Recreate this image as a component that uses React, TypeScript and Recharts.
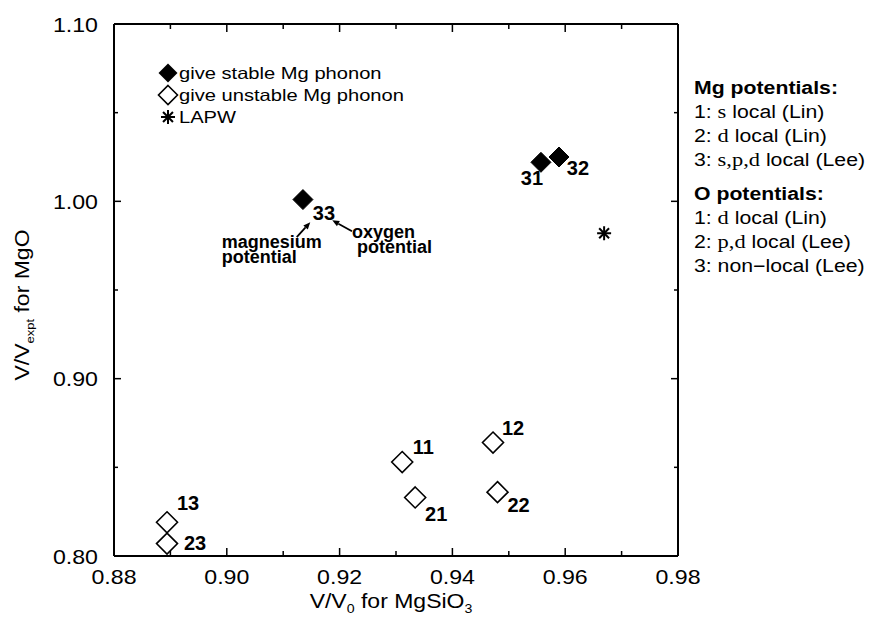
import React from 'react';
import { ScatterChart, Scatter, XAxis, YAxis, Legend, ReferenceLine, ReferenceDot } from 'recharts';

// ---------- data ----------
const stableX = [0.9135, 0.9557, 0.9589];
const stableY = [1.001, 1.022, 1.025];
const stableLabels = ['33', '31', '32'];

const unstableX = [0.9311, 0.9472, 0.8894, 0.9334, 0.948, 0.8894];
const unstableY = [0.853, 0.864, 0.819, 0.833, 0.836, 0.807];
const unstableLabels = ['11', '12', '13', '21', '22', '23'];

const lapwX = [0.9669];
const lapwY = [0.982];

const xTicks = [0.88, 0.89, 0.9, 0.91, 0.92, 0.93, 0.94, 0.95, 0.96, 0.97, 0.98];
const yTicks = [0.8, 0.85, 0.9, 0.95, 1.0, 1.05, 1.1];

const seriesNames = ['give stable Mg phonon', 'give unstable Mg phonon', 'LAPW'];

const mgLines = [
  ['1: ', 's', ' local (Lin)'],
  ['2: ', 'd', ' local (Lin)'],
  ['3: ', 's,p,d', ' local (Lee)'],
];
const oLines = [
  ['1: ', 'd', ' local (Lin)'],
  ['2: ', 'p,d', ' local (Lee)'],
  ['3: ', '', 'non\u2212local (Lee)'],
];

// annotation anchors (data coords)
const magText = { x: 0.8991, y: 0.9736, lines: ['magnesium', 'potential'] };
const oxyText = { x: 0.9222, y: 0.9792, lines: ['oxygen', 'potential'] };
const magArrow = [{ x: 0.9124, y: 0.9798 }, { x: 0.9148, y: 0.9882 }];
const oxyArrow = [{ x: 0.9222, y: 0.9831 }, { x: 0.9187, y: 0.9893 }];

// label offsets (px, centre of label relative to point)
const labelOffsets: Record<string, [number, number]> = {
  '33': [21, 13], '31': [-9, 16], '32': [19, 11],
  '11': [21, -15], '12': [20, -15], '13': [21, -19],
  '21': [21, 17], '22': [21, 13], '23': [28, -1],
};

const stableData = stableX.map((x, i) => ({ x, y: stableY[i], label: stableLabels[i] }));
const unstableData = unstableX.map((x, i) => ({ x, y: unstableY[i], label: unstableLabels[i] }));
const lapwData = lapwX.map((x, i) => ({ x, y: lapwY[i], label: '' }));

const SANS = '"Liberation Sans", Arial, Helvetica, sans-serif';
const SERIF = '"Liberation Serif", "Times New Roman", serif';
const SX = 1.18;

// stretched svg text
const SText = ({ x, y, sx = SX, rotate = 0, anchor = 'start', size, children, weight }: any) => (
  <g transform={`translate(${x},${y}) rotate(${rotate}) scale(${sx},1)`}>
    <text x={0} y={0} textAnchor={anchor} fontFamily={SANS} fontSize={size} fontWeight={weight} fill="#000">
      {children}
    </text>
  </g>
);

// ---------- shapes ----------
const PointLabel = ({ cx, cy, label }: any) => {
  if (!label) return null;
  const off = labelOffsets[label] || [0, 0];
  return (
    <text x={cx + off[0]} y={cy + off[1] + 7} textAnchor="middle" fontFamily={SANS}
      fontWeight="bold" fontSize={20} fill="#000">{label}</text>
  );
};

const FilledDiamond = (props: any) => {
  const { cx, cy, payload } = props;
  const r = 10;
  return (
    <g>
      <polygon points={`${cx},${cy - r} ${cx + r},${cy} ${cx},${cy + r} ${cx - r},${cy}`} fill="#000" stroke="#000" />
      <PointLabel cx={cx} cy={cy} label={payload.label} />
    </g>
  );
};

const OpenDiamond = (props: any) => {
  const { cx, cy, payload } = props;
  const r = 10.5;
  return (
    <g>
      <polygon points={`${cx},${cy - r} ${cx + r},${cy} ${cx},${cy + r} ${cx - r},${cy}`} fill="#fff" stroke="#000" strokeWidth={1.6} />
      <PointLabel cx={cx} cy={cy} label={payload.label} />
    </g>
  );
};

const Star = (props: any) => {
  const { cx, cy } = props;
  const r = 7;
  const d = r * Math.SQRT1_2;
  return (
    <g stroke="#000" strokeWidth={2}>
      <line x1={cx - r} y1={cy} x2={cx + r} y2={cy} />
      <line x1={cx} y1={cy - r} x2={cx} y2={cy + r} />
      <line x1={cx - d} y1={cy - d} x2={cx + d} y2={cy + d} />
      <line x1={cx - d} y1={cy + d} x2={cx + d} y2={cy - d} />
    </g>
  );
};

const ArrowLine = (props: any) => {
  const { x1, y1, x2, y2 } = props;
  const ang = Math.atan2(y2 - y1, x2 - x1);
  const L = 7, W = 3;
  const bx = x2 - L * Math.cos(ang), by = y2 - L * Math.sin(ang);
  const px = -Math.sin(ang) * W, py = Math.cos(ang) * W;
  return (
    <g>
      <line x1={x1} y1={y1} x2={bx} y2={by} stroke="#000" strokeWidth={1.8} />
      <polygon points={`${x2},${y2} ${bx + px},${by + py} ${bx - px},${by - py}`} fill="#000" />
    </g>
  );
};

const makeAnnot = (lines: string[], indent: number) => (props: any) => {
  const { cx, cy } = props;
  return (
    <text x={cx} y={cy} fontFamily={SANS} fontWeight="bold" fontSize={18} fill="#000">
      {lines.map((l, i) => (
        <tspan key={i} x={cx + (i > 0 ? indent : 0)} y={cy + i * 15}>{l}</tspan>
      ))}
    </text>
  );
};

// ---------- ticks ----------
const isMajorX = (v: number) => Math.round(v * 100) % 2 === 0;
const isMajorY = (v: number) => Math.round(v * 100) % 10 === 0;

const XTickBottom = (props: any) => {
  const { x, y, payload } = props;
  const major = isMajorX(payload.value);
  return (
    <g>
      <line x1={x} x2={x} y1={y} y2={y - (major ? 8 : 5)} stroke="#000" strokeWidth={1.5} />
      {major && <SText x={x} y={y + 28} sx={1.13} anchor="middle" size={20.5}>{payload.value.toFixed(2)}</SText>}
    </g>
  );
};
const XTickTop = (props: any) => {
  const { x, y, payload } = props;
  const major = isMajorX(payload.value);
  return <line x1={x} x2={x} y1={y} y2={y + (major ? 8 : 5)} stroke="#000" strokeWidth={1.5} />;
};
const YTickLeft = (props: any) => {
  const { x, y, payload } = props;
  const major = isMajorY(payload.value);
  return (
    <g>
      <line x1={x} x2={x + (major ? 7 : 4)} y1={y} y2={y} stroke="#000" strokeWidth={1.5} />
      {major && <SText x={x - 16} y={y + 7.5} sx={1.13} anchor="end" size={20.5}>{payload.value.toFixed(2)}</SText>}
    </g>
  );
};
const YTickRight = (props: any) => {
  const { x, y, payload } = props;
  const major = isMajorY(payload.value);
  return <line x1={x} x2={x - (major ? 7 : 4)} y1={y} y2={y} stroke="#000" strokeWidth={1.5} />;
};

const XTitle = (props: any) => {
  const vb = props.viewBox;
  const cx = vb.x + vb.width / 2 - 5;
  return (
    <SText x={cx} y={vb.y + 52} anchor="middle" size={19.5}>
      V/V<tspan fontSize={12} dy={5}>0</tspan><tspan dy={-5}> for MgSiO</tspan><tspan fontSize={12} dy={5}>3</tspan>
    </SText>
  );
};
const YTitle = (props: any) => {
  const vb = props.viewBox;
  const cy = vb.y + vb.height / 2 + 15;
  return (
    <SText x={29} y={cy} rotate={-90} anchor="middle" size={19.5}>
      V/V<tspan fontSize={11} dy={5}>expt</tspan><tspan dy={-5}> for MgO</tspan>
    </SText>
  );
};

// ---------- legend ----------
const LegendIcon = ({ kind }: { kind: number }) => (
  <svg width={22} height={22} style={{ display: 'block', flex: 'none' }}>
    {kind === 0 && <polygon points="11,1.5 20.5,11 11,20.5 1.5,11" fill="#000" />}
    {kind === 1 && <polygon points="11,1.5 20.5,11 11,20.5 1.5,11" fill="#fff" stroke="#000" strokeWidth={1.6} />}
    {kind === 2 && <Star cx={11} cy={11} />}
  </svg>
);

const renderLegend = (props: any) => {
  const payload = [...(props.payload || [])].sort(
    (a: any, b: any) => seriesNames.indexOf(a.value) - seriesNames.indexOf(b.value)
  );
  return (
    <div style={{ fontFamily: SANS, fontSize: 16.5, color: '#000' }}>
      {payload.map((entry: any, i: number) => {
        const kind = seriesNames.indexOf(entry.value);
        return (
          <div key={i} style={{ display: 'flex', alignItems: 'center', height: 22, whiteSpace: 'nowrap' }}>
            <LegendIcon kind={kind} />
            <span style={{ display: 'inline-block', transform: 'scaleX(1.22)', transformOrigin: 'left center' }}>
              {entry.value}
            </span>
          </div>
        );
      })}
    </div>
  );
};

const SideBlock = ({ title, lines, top }: { title: string; lines: string[][]; top: number }) => (
  <div style={{ position: 'absolute', left: 694, top, fontFamily: SANS, fontSize: 18, lineHeight: '23px', color: '#000', whiteSpace: 'nowrap', transform: `scaleX(${SX})`, transformOrigin: 'left top' }}>
    <div style={{ fontWeight: 'bold' }}>{title}</div>
    {lines.map((l, i) => (
      <div key={i}>
        {l[0]}
        <span style={{ fontFamily: SERIF, fontSize: 19 }}>{l[1]}</span>
        {l[2]}
      </div>
    ))}
  </div>
);

export default function App() {
  return (
    <div style={{ position: 'absolute', left: 0, top: 0, width: 883, height: 620, background: '#fff', overflow: 'hidden' }}>
      <ScatterChart width={883} height={620} margin={{ top: 23, right: 204, bottom: 0, left: 0 }}>
        <XAxis dataKey="x" type="number" domain={[0.88, 0.98]} ticks={xTicks} interval={0}
          tickSize={0} tickMargin={0} tick={<XTickBottom />} height={64}
          axisLine={{ stroke: '#000', strokeWidth: 2 }} tickLine={false} allowDataOverflow
          label={<XTitle />} />
        <XAxis xAxisId="top" orientation="top" dataKey="x" type="number" domain={[0.88, 0.98]} ticks={xTicks} interval={0}
          tickSize={0} tickMargin={0} tick={<XTickTop />} height={1}
          axisLine={{ stroke: '#000', strokeWidth: 2 }} tickLine={false} allowDataOverflow />
        <YAxis dataKey="y" type="number" domain={[0.8, 1.1]} ticks={yTicks} interval={0}
          tickSize={0} tickMargin={0} tick={<YTickLeft />} width={114}
          axisLine={{ stroke: '#000', strokeWidth: 2 }} tickLine={false} allowDataOverflow
          label={<YTitle />} />
        <YAxis yAxisId="right" orientation="right" dataKey="y" type="number" domain={[0.8, 1.1]} ticks={yTicks} interval={0}
          tickSize={0} tickMargin={0} tick={<YTickRight />} width={1}
          axisLine={{ stroke: '#000', strokeWidth: 2 }} tickLine={false} allowDataOverflow />

        <Legend layout="horizontal" verticalAlign="middle" align="center" content={renderLegend}
          wrapperStyle={{ position: 'absolute', left: 157, top: 62, width: 260 }} />

        <Scatter name={seriesNames[0]} data={stableData} shape={<FilledDiamond />} isAnimationActive={false} />
        <Scatter name={seriesNames[1]} data={unstableData} shape={<OpenDiamond />} isAnimationActive={false} />
        <Scatter name={seriesNames[2]} data={lapwData} shape={<Star />} isAnimationActive={false} />

        <ReferenceLine segment={magArrow} shape={<ArrowLine />} />
        <ReferenceLine segment={oxyArrow} shape={<ArrowLine />} />
        <ReferenceDot x={magText.x} y={magText.y} r={0} shape={makeAnnot(magText.lines, 0)} />
        <ReferenceDot x={oxyText.x} y={oxyText.y} r={0} shape={makeAnnot(oxyText.lines, 5)} />
      </ScatterChart>
      <SideBlock title="Mg potentials:" lines={mgLines} top={77} />
      <SideBlock title="O potentials:" lines={oLines} top={183} />
    </div>
  );
}
